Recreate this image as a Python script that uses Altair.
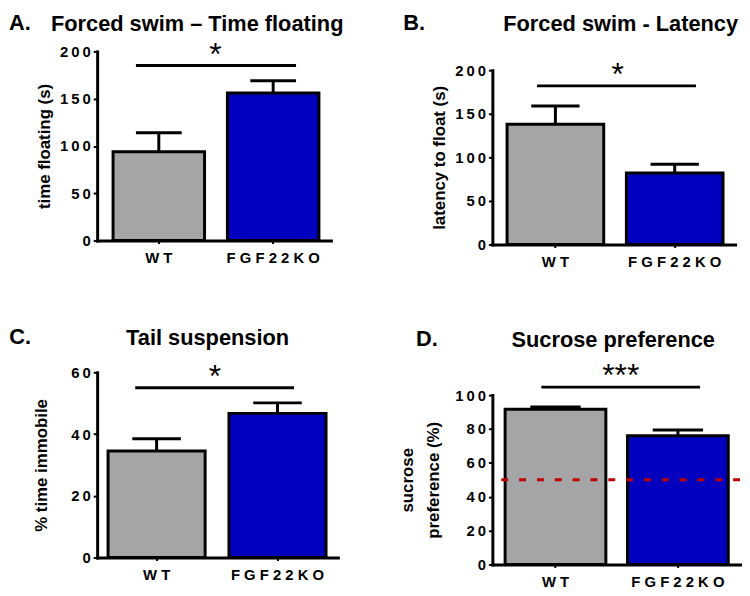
import altair as alt
import pandas as pd

# ---------------- data ----------------
groups = ["WT", "FGF22KO"]
bar_colors = ["#A5A5A8", "#0000BE"]

floating_mean = [94, 156]
floating_sem = [20, 13]
latency_mean = [138, 82]
latency_sem = [21, 10]
immobile_mean = [34.5, 46.7]
immobile_sem = [4.0, 3.4]
sucrose_mean = [91.6, 76.0]
sucrose_sem = [1.4, 3.4]

sig_heights = [185, 182, 55, 104.7]
sig_labels = ["*", "*", "*", "***"]
chance_level = [50]

letters = ["A.", "B.", "C.", "D."]
titles = ["Forced swim – Time floating", "Forced swim - Latency",
          "Tail suspension", "Sucrose preference"]
y_titles = ["time floating (s)", "latency to float (s)",
            "% time immobile", ["sucrose", "preference (%)"]]
y_domains = [[0, 200], [0, 200], [0, 60], [0, 100]]
y_ticks = [[0, 50, 100, 150, 200], [0, 50, 100, 150, 200],
           [0, 20, 40, 60], [0, 20, 40, 60, 80, 100]]

# ---------------- layout (pixels / fractions) ----------------
LAYOUT = [
    dict(w=236, h=191, pin=0.20, pout=0.122, align=0.57, s0=0.25, s1=0.75,
         ast_dx=11, t_off=-14, t_dx=-17, l_dx=-27, ytp=6),
    dict(w=245, h=176, pin=0.19, pout=0.112, align=0.55, s0=0.31, s1=0.72,
         ast_dx=14, t_off=6, t_dx=7, l_dx=-28, ytp=6),
    dict(w=243, h=187, pin=0.197, pout=0.094, align=0.48, s0=0.28, s1=0.67,
         ast_dx=10, t_off=-6, t_dx=-10, l_dx=-24, ytp=20),
    dict(w=250, h=171, pin=0.177, pout=0.10, align=0.52, s0=0.36, s1=0.72,
         ast_dx=15, t_off=-8, t_dx=-3, l_dx=18, ytp=12),
]

FONT = "Liberation Sans"
X_LABEL_EXPR = "join(split(datum.label, ''), ' ')"
Y_LABEL_EXPR = "join(split(datum.label, ''), '\u2009')"


def panel(k, means, sems):
    L = LAYOUT[k]
    df = pd.DataFrame({
        "group": groups,
        "mean": means,
        "upper": [m + s for m, s in zip(means, sems)],
    })
    sig = pd.DataFrame({"g1": [groups[0]], "g2": [groups[1]],
                        "y": [sig_heights[k]], "label": [sig_labels[k]]})

    xscale = alt.Scale(domain=groups, paddingInner=L["pin"],
                       paddingOuter=L["pout"], align=L["align"])
    yscale = alt.Scale(domain=y_domains[k], nice=False)
    xaxis = alt.Axis(title=None, labelAngle=0, labelExpr=X_LABEL_EXPR,
                     labelFontSize=15, labelPadding=7, tickSize=3)
    yaxis = alt.Axis(title=y_titles[k], values=y_ticks[k], tickCount=20,
                     labelExpr=Y_LABEL_EXPR,
                     labelFontSize=15, labelPadding=3, tickSize=4,
                     labelOverlap=False, labelFlush=False,
                     titlePadding=L["ytp"], titleLineHeight=27)

    base = alt.Chart(df)
    bars = base.mark_bar(stroke="black", strokeWidth=3).encode(
        x=alt.X("group:N", scale=xscale, axis=xaxis),
        y=alt.Y("mean:Q", scale=yscale, axis=yaxis),
        color=alt.Color("group:N", scale=alt.Scale(domain=groups, range=bar_colors),
                        legend=None),
    )
    stems = base.mark_rule(color="black", strokeWidth=3).encode(
        x=alt.X("group:N", scale=xscale, bandPosition=0.5),
        y=alt.Y("mean:Q", scale=yscale),
        y2="upper:Q",
    )
    caps = base.mark_rule(color="black", strokeWidth=3).encode(
        x=alt.X("group:N", scale=xscale, bandPosition=0.25),
        x2=alt.X2("group", bandPosition=0.75),
        y=alt.Y("upper:Q", scale=yscale),
    )
    layers = [bars, stems, caps]
    if k == 3:
        chance = alt.Chart(pd.DataFrame({"level": chance_level})).mark_rule(
            color="#C00000", strokeWidth=3, strokeDash=[7, 11]
        ).encode(y=alt.Y("level:Q", scale=yscale))
        layers.append(chance)
    sbase = alt.Chart(sig)
    sig_line = sbase.mark_rule(color="black", strokeWidth=3).encode(
        x=alt.X("g1:N", scale=xscale, bandPosition=L["s0"]),
        x2=alt.X2("g2", bandPosition=L["s1"]),
        y=alt.Y("y:Q", scale=yscale),
    )
    sig_text = sbase.mark_text(fontSize=32, font=FONT, baseline="alphabetic",
                               dx=L["ast_dx"], dy=-1, color="black").encode(
        x=alt.X("g1:N", scale=xscale, bandPosition=1),
        y=alt.Y("y:Q", scale=yscale),
        text="label:N",
    )
    layers += [sig_line, sig_text]

    inner = alt.layer(*layers).properties(
        width=L["w"], height=L["h"],
        title=alt.Title(titles[k], anchor="middle", fontSize=22, font=FONT,
                        fontWeight="bold", offset=L["t_off"], dx=L["t_dx"],
                        baseline="alphabetic", color="black"),
    )
    return alt.vconcat(
        inner,
        title=alt.Title(letters[k], anchor="start", fontSize=22, font=FONT,
                        fontWeight="bold", offset=-39, dx=L["l_dx"],
                        baseline="alphabetic", color="black"),
    )


def spacer():
    return alt.Chart(pd.DataFrame({"v": [0]})).mark_rule(
        opacity=0, strokeWidth=0
    ).encode(
        x=alt.value(0), x2=alt.value(0), y=alt.value(0), y2=alt.value(0)
    ).properties(width=1, height=1)


pA = panel(0, floating_mean, floating_sem)
pB = panel(1, latency_mean, latency_sem)
pC = panel(2, immobile_mean, immobile_sem)
pD = panel(3, sucrose_mean, sucrose_sem)

col1 = alt.vconcat(spacer(), alt.vconcat(pA, pC, spacing=61), spacing=0)
col2 = alt.vconcat(spacer(), alt.vconcat(pB, pD, spacing=58), spacing=0)

chart = alt.hconcat(col1, col2, spacing=54).properties(
    padding=0
).configure_view(stroke=None).configure_axis(
    domainColor="black", domainWidth=3, domainCap="square",
    tickColor="black", tickWidth=2, grid=False, labelOverlap=False,
    labelFont=FONT, labelFontWeight="bold", labelColor="black",
    titleFont=FONT, titleFontWeight="bold", titleColor="black",
    titleFontSize=17,
)

chart.save("out.html", embed_options={"renderer": "svg", "actions": False})
